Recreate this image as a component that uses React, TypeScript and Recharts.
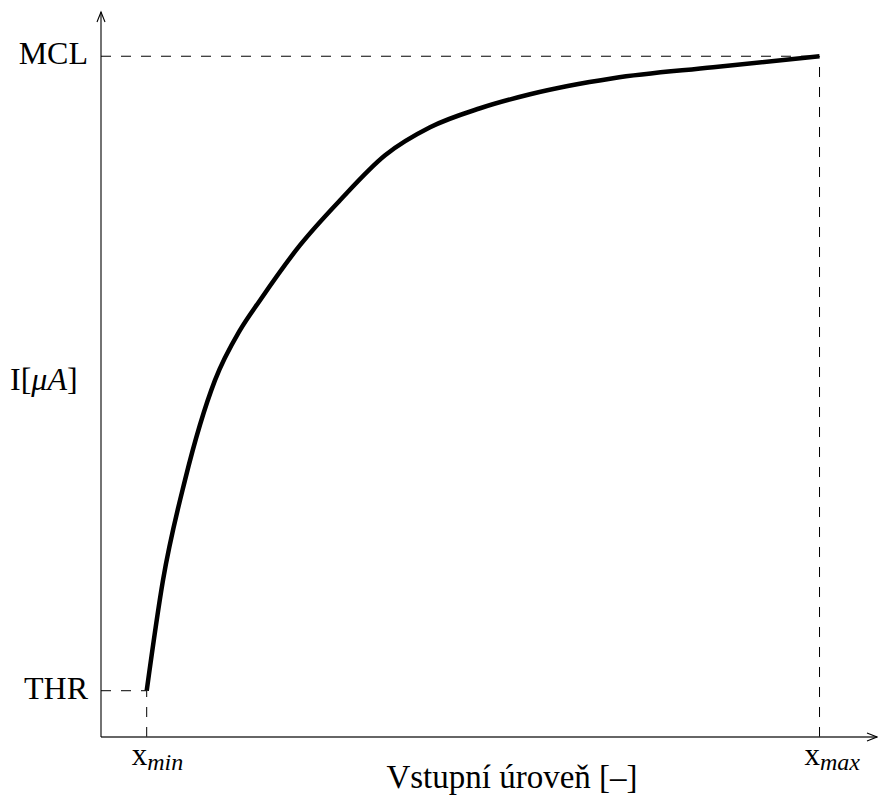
import React from "react";
import { LineChart, Line, XAxis, YAxis, ReferenceLine } from "recharts";

// input level (x) and current (y)
const inputLevel = [6.36, 8.63, 11.69, 15.87, 19.35, 22.14, 27.7, 33.27, 39.54, 45.8, 52.76, 59.72, 71.28, 85.2, 100];
const current = [6.8, 23.05, 37.74, 52.42, 59.77, 64.17, 72.25, 78.85, 85.46, 89.57, 92.36, 94.42, 96.77, 98.38, 100];

const X_MIN = 6.36;
const X_MAX = 100;
const THR = 6.8;
const MCL = 100;

const xTicks = [X_MIN, X_MAX];
const xTickSubs = ["min", "max"];
const yTicks = [THR, MCL];
const yTickLabels = ["THR", "MCL"];

const data = inputLevel.map((x, i) => ({ x, y: current[i] }));

const FONT = "'Liberation Serif', 'Times New Roman', serif";

function XTick({ x, y, index }: any) {
  return (
    <text x={x - 15} y={y + 28} fontFamily={FONT} fontSize={31} fill="#000" textAnchor="start">
      x
      <tspan fontStyle="italic" fontSize={24} dy={5}>
        {xTickSubs[index]}
      </tspan>
    </text>
  );
}

function YTick({ x, y, index }: any) {
  return (
    <text x={x - 13} y={y + 8} fontFamily={FONT} fontSize={32} fill="#000" textAnchor="end">
      {yTickLabels[index]}
    </text>
  );
}

function YLabel({ viewBox }: any) {
  const { x, y, height } = viewBox;
  return (
    <text x={x + 10} y={y + height / 2 + 15} fontFamily={FONT} fontSize={32} fill="#000">
      I[<tspan fontStyle="italic">μA</tspan>]
    </text>
  );
}

function XLabel({ viewBox }: any) {
  const { x, y, width } = viewBox;
  return (
    <text x={x + width / 2 + 23} y={y + 51} fontFamily={FONT} fontSize={33} fill="#000" textAnchor="middle">
      Vstupní úroveň [–]
    </text>
  );
}

export default function App() {
  return (
    <div style={{ position: "absolute", left: 0, top: 0, background: "#fff" }}>
      <svg width={0} height={0} style={{ position: "absolute" }}>
        <defs>
          <marker
            id="axisArrow"
            viewBox="-12 -6 14 12"
            refX={0}
            refY={0}
            markerWidth={14}
            markerHeight={12}
            markerUnits="userSpaceOnUse"
            orient="auto-start-reverse"
          >
            <path d="M -10 -4 L 0 0 L -10 4" fill="none" stroke="#000" strokeWidth={1.1} />
          </marker>
        </defs>
      </svg>
      <LineChart width={878} height={796} data={data} margin={{ top: 12, right: 1, bottom: 0, left: 0 }}>
        <XAxis
          type="number"
          dataKey="x"
          domain={[0, 108]}
          ticks={xTicks}
          tick={<XTick />}
          tickLine={false}
          tickSize={0}
          tickMargin={0}
          height={59}
          axisLine={{ stroke: "#333", strokeWidth: 1.4, markerEnd: "url(#axisArrow)" }}
          label={<XLabel />}
          allowDataOverflow
        />
        <YAxis
          type="number"
          dataKey="y"
          domain={[0, 106.5]}
          ticks={yTicks}
          tick={<YTick />}
          tickLine={false}
          tickSize={0}
          tickMargin={0}
          width={101}
          axisLine={{ stroke: "#000", strokeWidth: 1.1, markerStart: "url(#axisArrow)" }}
          label={<YLabel />}
          allowDataOverflow
        />
        <ReferenceLine segment={[{ x: 0, y: MCL }, { x: X_MAX, y: MCL }]} stroke="#000" strokeDasharray="10 10" />
        <ReferenceLine segment={[{ x: X_MAX, y: 0 }, { x: X_MAX, y: MCL }]} stroke="#000" strokeDasharray="10 10" />
        <ReferenceLine segment={[{ x: 0, y: THR }, { x: X_MIN, y: THR }]} stroke="#000" strokeDasharray="10 10" />
        <ReferenceLine segment={[{ x: X_MIN, y: 0 }, { x: X_MIN, y: THR }]} stroke="#000" strokeDasharray="10 10" />
        <Line
          type="monotone"
          dataKey="y"
          stroke="#000"
          strokeWidth={4.5}
          dot={false}
          activeDot={false}
          isAnimationActive={false}
        />
      </LineChart>
    </div>
  );
}
